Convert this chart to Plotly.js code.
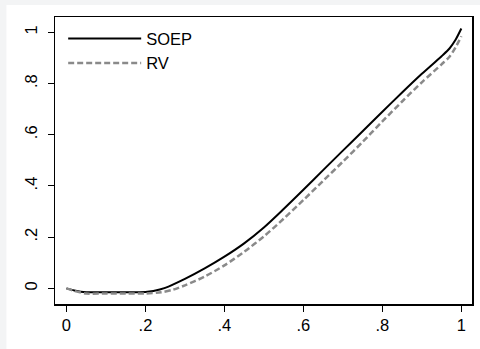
<!DOCTYPE html>
<html>
<head>
<meta charset="utf-8">
<script src="https://cdn.plot.ly/plotly-3.0.1.min.js"></script>
<style>html,body{margin:0;padding:0;background:#fff}#chart{width:480px;height:349px}</style>
</head>
<body>
<div id="chart"></div>
<script>
const xGrid = [0, 0.02, 0.05, 0.1, 0.15, 0.2, 0.22, 0.25, 0.3, 0.35, 0.4, 0.45, 0.5, 0.55, 0.6, 0.65, 0.7, 0.75, 0.8, 0.85, 0.9, 0.95, 0.97, 0.985, 1.0];
const soep = [0, -0.008, -0.015, -0.015, -0.015, -0.014, -0.01, 0.002, 0.037, 0.078, 0.124, 0.176, 0.238, 0.31, 0.385, 0.462, 0.538, 0.614, 0.69, 0.765, 0.838, 0.907, 0.937, 0.97, 1.015];
const rvX = [0, 0.02, 0.05, 0.1, 0.15, 0.2, 0.24, 0.27, 0.3, 0.35, 0.4, 0.45, 0.5, 0.55, 0.6, 0.65, 0.7, 0.75, 0.8, 0.85, 0.9, 0.95, 0.97, 0.985, 1.0];
const rv = [0, -0.01, -0.02, -0.02, -0.02, -0.02, -0.015, -0.005, 0.012, 0.046, 0.09, 0.143, 0.203, 0.272, 0.345, 0.42, 0.495, 0.572, 0.652, 0.73, 0.805, 0.875, 0.905, 0.94, 0.985];
const xTicks = [0, 0.2, 0.4, 0.6, 0.8, 1];
const xTickText = ['0', '.2', '.4', '.6', '.8', '1'];
const yTicks = [0, 0.2, 0.4, 0.6, 0.8, 1];
const yTickText = ['0', '.2', '.4', '.6', '.8', '1'];

const font = {family: 'Liberation Sans, Arial, sans-serif', size: 16.5, color: '#000'};
const traces = [
  {x: xGrid, y: soep, name: 'SOEP', mode: 'lines', line: {color: '#000', width: 2, shape: 'spline', smoothing: 0.8}},
  {x: rvX, y: rv, name: 'RV', mode: 'lines', line: {color: '#8a8a8a', width: 2.5, dash: '6px,3px', shape: 'spline', smoothing: 0.8}}
];
const layout = {
  width: 480, height: 349,
  margin: {l: 55, r: 8, t: 17, b: 45},
  paper_bgcolor: '#fff', plot_bgcolor: '#fff',
  font: font,
  showlegend: true,
  legend: {x: 0.0196, y: 0.985, xanchor: 'left', yanchor: 'top', bgcolor: 'rgba(0,0,0,0)', borderwidth: 0, font: font, itemwidth: 73, tracegroupgap: 0},
  xaxis: {range: [-0.029, 1.027], tickvals: xTicks, ticktext: xTickText, ticks: 'outside', ticklen: 6, tickwidth: 1, tickcolor: '#000',
    showline: true, mirror: true, linecolor: '#000', linewidth: 1.5, showgrid: false, zeroline: false, tickfont: font},
  yaxis: {range: [-0.061, 1.06], tickvals: yTicks, ticktext: yTickText, ticks: 'outside', ticklen: 6, tickwidth: 1, tickcolor: '#000', tickangle: -90,
    ticklabelstandoff: 4,
    showline: true, mirror: true, linecolor: '#000', linewidth: 1.5, showgrid: false, zeroline: false, tickfont: font},
  shapes: [
    {type: 'rect', xref: 'paper', yref: 'paper', x0: -0.2, x1: 1.1, y0: 1.042, y1: 1.2, fillcolor: '#f3f4f5', line: {width: 0}, layer: 'below'},
    {type: 'rect', xref: 'paper', yref: 'paper', x0: -0.2, x1: -0.1165, y0: -0.3, y1: 1.2, fillcolor: '#f3f4f5', line: {width: 0}, layer: 'below'}
  ]
};
Plotly.newPlot('chart', traces, layout, {displayModeBar: false, staticPlot: true});
</script>
</body>
</html>
